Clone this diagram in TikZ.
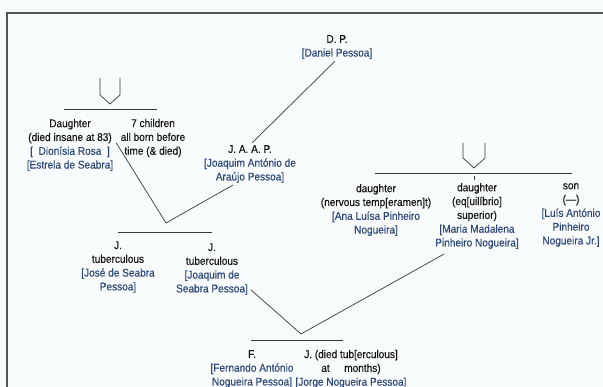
\documentclass[tikz,border=0pt]{standalone}
\usepackage{fontspec}
\setmainfont{Liberation Sans}[FakeStretch=0.9,FakeBold=0.35]
\usetikzlibrary{calc}
\definecolor{nameblue}{HTML}{2C4778}
\definecolor{bg}{HTML}{F9FCFC}
\definecolor{framec}{HTML}{555555}
\definecolor{ink}{HTML}{151515}
\newcommand\nmb[1]{\textcolor{nameblue}{#1}}
\tikzset{
  lbl/.style={align=center, inner sep=0pt, font=\fontsize{11.2}{13.8}\selectfont, text=ink},
  conn/.style={draw=ink!85, line width=0.7pt},
  brk/.style={draw=ink!85, line width=0.7pt, line join=round},
}
\begin{document}
\begin{tikzpicture}[x=1pt,y=-1pt]
\fill[bg] (0,0) rectangle (603,387);
\useasboundingbox (0,0) rectangle (603,387);
\draw[framec, line width=2pt] (7,387) -- (7,13) -- (603,13);

\node[lbl] (dp) at (337,47) {D. P.\\\nmb{[Daniel Pessoa]}};
\node[lbl] (dau) at (70,145) {Daughter\\(died insane at 83)\\\nmb{[\enspace Dionísia Rosa\enspace]}\\\nmb{[Estrela de Seabra]}};
\node[lbl] (sev) at (153,138) {7 children\\all born before\\time (\& died)};
\node[lbl] (jaap) at (250,164) {J. A. A. P.\\\nmb{[Joaquim António de}\\\nmb{Araújo Pessoa]}};
\node[lbl] (jose) at (118,267) {J.\\tuberculous\\\nmb{[José de Seabra}\\\nmb{Pessoa]}};
\node[lbl] (jqs) at (212,269) {J.\\tuberculous\\\nmb{[Joaquim de}\\\nmb{Seabra Pessoa]}};
\node[lbl] (ana) at (376,210) {daughter\\(nervous temp[eramen]t)\\\nmb{[Ana Luísa Pinheiro}\\\nmb{Nogueira]}};
\node[lbl] (mm) at (477,216) {daughter\\(eq[uilíbrio]\\superior)\\\nmb{[Maria Madalena}\\\nmb{Pinheiro Nogueira]}};
\node[lbl] (son) at (571,215) {son\\(—)\\\nmb{[Luís António}\\\nmb{Pinheiro}\\\nmb{Nogueira Jr.]}};
\node[lbl] (fer) at (252,369) {F.\\\nmb{[Fernando António}\\\nmb{Nogueira Pessoa]}};
\node[lbl] (jor) at (351,369) {J. (died tub[erculous]\\at\hspace{1.3em}months)\\\nmb{[Jorge Nogueira Pessoa]}};

\coordinate (v1) at (166,223);
\coordinate (v2) at (301,334);

\draw[conn, shorten <=3pt, shorten >=3pt] (dp.south) -- (jaap.north);
\draw[conn] ($(dau.east)+(3,-2)$) -- (v1);
\draw[conn] ($(jaap.south)+(-17,2)$) -- (v1);
\draw[conn] ($(jqs.south east)+(3,-5)$) -- (v2);
\draw[conn] ($(mm.south west)+(9,5)$) -- (v2);

% sibling bars and marks
\draw[brk] (64,109) -- (157,109);
\draw[brk] (100,78) -- (100,95) -- (110,104) -- (120,95) -- (120,78);
\draw[brk] (375,173) -- (572,173);
\draw[brk] (463,143) -- (463,158) -- (474,168) -- (485,158) -- (485,143);
\draw[brk] (474,176) -- (474,180);
\draw[brk] (118,232) -- (212,232);
\draw[brk] (251,340) -- (343,340);
\end{tikzpicture}
\end{document}
